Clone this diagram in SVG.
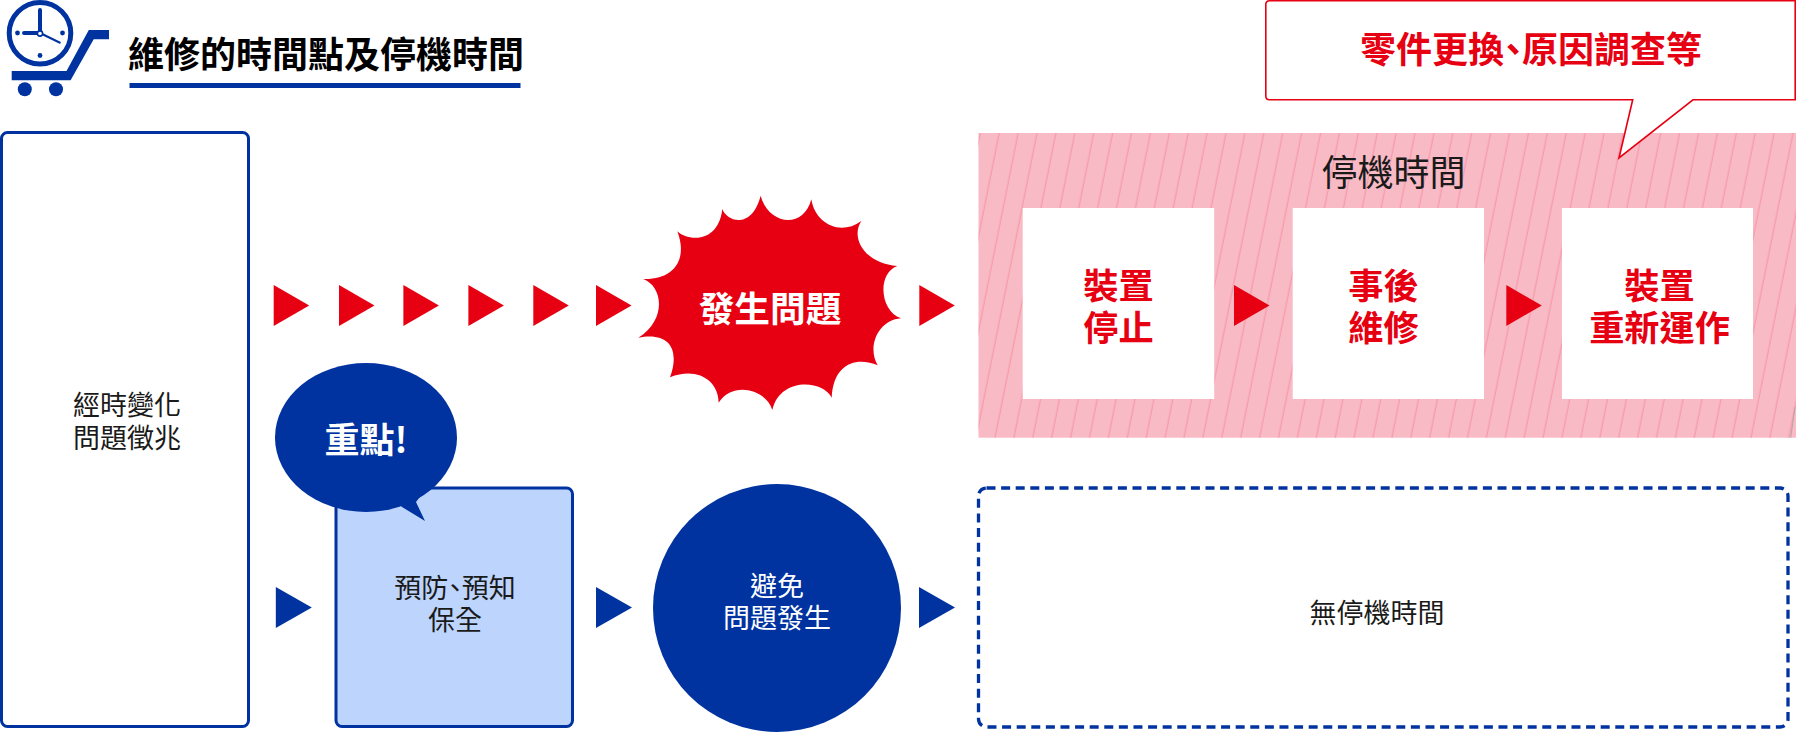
<svg xmlns="http://www.w3.org/2000/svg" width="1796" height="732" viewBox="0 0 1796 732">
<style>
text{font-family:"Noto Sans CJK TC","Noto Sans CJK SC","Liberation Sans",sans-serif;text-anchor:middle}
.b{font-weight:700}
.r{fill:#e60012}.w{fill:#fff}.k{fill:#1a1a1a}.blue{fill:#0033a0}
.f34{font-size:35.2px}.f26{font-size:27px}
.p{font-feature-settings:"palt"}
</style>
<defs>
<pattern id="hatch" patternUnits="userSpaceOnUse" width="18.9" height="20" patternTransform="skewX(-11.31)">
<rect x="4.6" y="0" width="1.3" height="20" fill="#f79aab"/>
</pattern>
<polygon id="tri" points="0,0 35.5,20.5 0,41"/>
<polygon id="trib" points="0,0 36,20.5 0,41"/>
</defs>
<rect width="1796" height="732" fill="#fff"/>
<g id="title-icon">
<circle cx="40" cy="33.3" r="30.8" fill="none" stroke="#0033a0" stroke-width="5"/>
<path d="M40 10V33M24 33H40" stroke="#0033a0" stroke-width="4" stroke-linecap="round" fill="none"/>
<path d="M40 33L60.5 43" stroke="#0033a0" stroke-width="2" fill="none"/>
<circle cx="40" cy="33.5" r="2.6" fill="#fff" stroke="#0033a0" stroke-width="1.6"/>
<circle cx="17.5" cy="33" r="2.4" class="blue"/><circle cx="62.5" cy="33" r="2.4" class="blue"/><circle cx="40" cy="55.5" r="2.4" class="blue"/>
<polygon class="blue" points="109,30 88.8,30 66.5,71 11.7,71 11.7,80.3 70.6,80.3 93.7,39.3 109,39.3"/>
<circle cx="24.8" cy="89.3" r="7" class="blue"/><circle cx="56" cy="89.3" r="7" class="blue"/>
</g>
<g id="title">
<text x="326" y="67.5" class="b" font-size="36" fill="#000">維修的時間點及停機時間</text>
<rect x="129.5" y="83" width="391" height="5" class="blue"/>
</g>
<g id="node-left">
<rect x="1.5" y="132.5" width="247" height="594" rx="6" fill="#fff" stroke="#0033a0" stroke-width="3"/>
<text x="127" y="415" class="k f26">經時變化</text>
<text x="127" y="447.5" class="k f26">問題徵兆</text>
</g>
<g id="node-downtime">
<rect x="978.5" y="133" width="817.5" height="304.7" fill="#f8bac5"/>
<rect x="978.5" y="133" width="817.5" height="304.7" fill="url(#hatch)"/>
<line x1="1795" y1="407" x2="1790.7" y2="437.7" stroke="#b5a3a8" stroke-width="1"/>
<text x="1393.5" y="186" font-size="36" class="k">停機時間</text>
</g>
<g id="node-callout">
<path d="M1269.5 .8H1795.2V99.8H1693L1619 158L1632.7 99.8H1269.5Q1265.8 99.8 1265.8 96V4.5Q1265.8 .8 1269.5 .8Z" fill="#fff" stroke="#e60012" stroke-width="1.6"/>
<text x="1531" y="63" font-size="36" class="b r p">零件更換、原因調查等</text>
</g>
<g id="node-stop">
<rect x="1022.7" y="208" width="191.5" height="191" fill="#fff"/>
<text x="1118.5" y="298.5" class="b r f34">裝置</text>
<text x="1118.5" y="341" class="b r f34">停止</text>
</g>
<g id="node-repair">
<rect x="1292.7" y="208" width="191.3" height="191" fill="#fff"/>
<text x="1383.5" y="298.5" class="b r f34">事後</text>
<text x="1383.5" y="341" class="b r f34">維修</text>
</g>
<g id="node-restart">
<rect x="1562" y="208" width="191" height="191" fill="#fff"/>
<text x="1659.5" y="298.5" class="b r f34">裝置</text>
<text x="1659.5" y="341" class="b r f34">重新運作</text>
</g>
<g id="node-burst">
<path class="r" transform="translate(620 180) scale(.33333)" d="M422 47C445 135 550 150 574 58C585 130 660 170 724 123C690 175 735 250 832 258C770 280 780 395 843 415C775 420 740 500 773 556C715 530 640 545 635 653C610 600 480 590 457 690C440 630 340 600 296 668C295 600 230 560 150 592C180 510 150 455 55 473C140 420 130 320 70 297C160 300 205 240 172 154C205 185 295 190 307 87C320 125 395 150 422 47Z"/>
<text x="770" y="322" font-size="35.7" class="b w">發生問題</text>
</g>
<g id="node-prevent">
<rect x="336" y="488" width="236.5" height="238.5" rx="6" fill="#bdd4fd" stroke="#0033a0" stroke-width="3"/>
<text x="455" y="597.5" class="k f26 p">預防、預知</text>
<text x="455" y="630" class="k f26">保全</text>
</g>
<g id="node-point">
<ellipse cx="366" cy="437.5" rx="91" ry="74.5" class="blue"/>
<polygon class="blue" points="395,500 402,507 425,521 416,502 425,490"/>
<text x="366" y="452.5" font-size="35" class="b w">重點!</text>
</g>
<g id="node-avoid">
<circle cx="777" cy="608" r="124" class="blue"/>
<text x="777" y="596" class="w f26">避免</text>
<text x="777" y="628" class="w f26">問題發生</text>
</g>
<g id="node-none">
<rect x="978.5" y="488" width="809.5" height="239" rx="8" fill="#fff" stroke="#0033a0" stroke-width="3.3" stroke-dasharray="9 5.6"/>
<text x="1377" y="623" class="k f26">無停機時間</text>
</g>
<g id="connectors">
<use href="#tri" x="273.7" y="285" class="r"/>
<use href="#tri" x="339" y="285" class="r"/>
<use href="#tri" x="403.4" y="285" class="r"/>
<use href="#tri" x="468.4" y="285" class="r"/>
<use href="#tri" x="533.3" y="285" class="r"/>
<use href="#tri" x="596" y="285" class="r"/>
<use href="#tri" x="919.3" y="285" class="r"/>
<use href="#tri" x="1234" y="285" class="r"/>
<use href="#tri" x="1506.3" y="285" class="r"/>
<use href="#trib" x="275.8" y="587" class="blue"/>
<use href="#trib" x="596" y="587" class="blue"/>
<use href="#trib" x="919" y="587" class="blue"/>
</g>
</svg>
